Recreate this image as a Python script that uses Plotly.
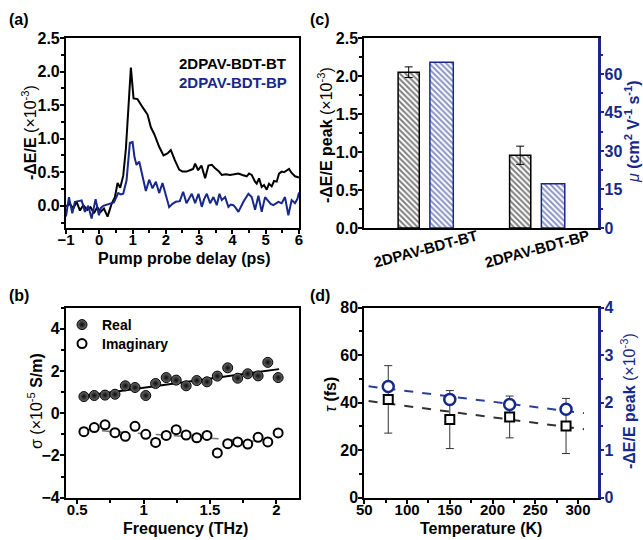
import numpy as np
import plotly.graph_objects as go

FONT = "Liberation Sans, Arial, sans-serif"
BLUE = "#16288c"

# ---------------- (a) transient photoconductivity ----------------
t_bt = [-1.0, -0.88, -0.78, -0.68, -0.58, -0.48, -0.36, -0.26, -0.16, -0.06, 0.04, 0.14, 0.25,
        0.37, 0.47, 0.55, 0.63, 0.72, 0.80, 0.87, 0.95, 1.03, 1.15, 1.30, 1.45, 1.55, 1.65, 1.80,
        1.93, 2.05, 2.15, 2.27, 2.40, 2.50, 2.62, 2.72, 2.82, 2.88, 2.97, 3.07, 3.18, 3.28, 3.38,
        3.48, 3.58, 3.68, 3.80, 3.93, 4.05, 4.18, 4.30, 4.43, 4.50, 4.58, 4.68, 4.73, 4.80, 4.88,
        4.95, 5.03, 5.10, 5.18, 5.25, 5.33, 5.40, 5.48, 5.55, 5.63, 5.70, 5.78, 5.88, 6.0]
v_bt = [-0.01, 0.03, -0.04, 0.06, -0.07, 0.01, -0.06, -0.02, -0.11, -0.02, -0.09, -0.04, -0.16,
        0.03, 0.13, 0.34, 0.27, 0.45, 0.85, 1.35, 2.06, 1.60, 1.59, 1.47, 1.36, 1.17, 1.07, 0.88,
        0.75, 0.78, 0.83, 0.68, 0.54, 0.51, 0.51, 0.53, 0.55, 0.63, 0.53, 0.60, 0.41, 0.60, 0.61,
        0.56, 0.52, 0.46, 0.47, 0.46, 0.47, 0.48, 0.46, 0.44, 0.48, 0.46, 0.36, 0.33, 0.41, 0.28,
        0.31, 0.24, 0.33, 0.29, 0.37, 0.36, 0.48, 0.51, 0.50, 0.53, 0.55, 0.49, 0.44, 0.42]
t_bp = [-1.0, -0.91, -0.81, -0.73, -0.63, -0.53, -0.43, -0.33, -0.23, -0.11, -0.01, 0.05, 0.12,
        0.27, 0.44, 0.57, 0.65, 0.72, 0.82, 0.92, 1.0, 1.06, 1.12, 1.2, 1.3, 1.4, 1.5, 1.6, 1.7,
        1.8, 1.9, 2.0, 2.1, 2.2, 2.3, 2.42, 2.52, 2.62, 2.7, 2.78, 2.88, 2.98, 3.08, 3.15, 3.23,
        3.33, 3.43, 3.53, 3.61, 3.68, 3.78, 3.88, 3.95, 4.03, 4.1, 4.18, 4.33, 4.48, 4.58, 4.68,
        4.78, 4.88, 4.98, 5.08, 5.15, 5.23, 5.38, 5.48, 5.58, 5.68, 5.78, 5.88, 5.95, 6.0]
v_bp = [-0.16, 0.13, -0.11, 0.06, 0.07, 0.08, -0.09, 0.0, -0.19, 0.10, -0.14, -0.03, 0.0,
        0.02, 0.05, 0.19, 0.17, 0.18, 0.38, 0.94, 0.95, 0.72, 0.61, 0.66, 0.46, 0.22, 0.39, 0.26,
        0.36, 0.19, 0.34, 0.16, -0.02, 0.03, 0.06, 0.07, 0.21, 0.04, 0.10, 0.18, 0.04, 0.18,
        -0.015, 0.10, 0.18, 0.04, 0.13, 0.01, 0.18, 0.085, 0.13, -0.015, 0.02, 0.01, -0.03, -0.09,
        0.06, 0.18, 0.13, -0.06, 0.15, -0.09, 0.13, 0.06, 0.03, 0.01, 0.06, 0.04, 0.13, -0.14,
        0.085, 0.04, 0.10, 0.20]
samples = ["2DPAV-BDT-BT", "2DPAV-BDT-BP"]

# ---------------- (b) THz conductivity ----------------
freq = [0.55, 0.628, 0.709, 0.784, 0.862, 0.935, 1.016, 1.09, 1.17, 1.245, 1.32, 1.40, 1.477,
        1.555, 1.633, 1.708, 1.784, 1.862, 1.935, 2.013]
sigma_real = [0.79, 0.84, 0.86, 0.90, 1.30, 1.22, 0.84, 1.41, 1.69, 1.57, 1.30, 1.55, 1.49,
              1.76, 2.15, 1.66, 1.87, 1.77, 2.41, 1.69]
sigma_imag = [-0.87, -0.68, -0.55, -0.92, -1.09, -0.62, -1.00, -1.38, -1.05, -0.78, -1.03,
              -1.16, -1.05, -1.88, -1.44, -1.36, -1.46, -1.14, -1.36, -0.93]
fit_freq = [0.55, 2.02]

# ---------------- (c) peak signal and mobility ----------------
peak = [2.05, 0.957]
peak_err = [0.07, 0.12]
mobility = [64.6, 17.2]

# ---------------- (d) temperature dependence ----------------
temps = [78, 150, 220, 286]
tau = [41.4, 32.9, 34.0, 30.2]
tau_err = [14.2, 12.2, 8.8, 11.6]
peak_T = [2.34, 2.07, 1.96, 1.86]
peak_T_err = [0.08, 0.06, 0.06, 0.06]
fit_T = [55, 307]

fig = go.Figure()

# (a)
fig.add_trace(go.Scatter(x=t_bt, y=v_bt, mode="lines", line=dict(color="black", width=2),
                         xaxis="x", yaxis="y", showlegend=False))
fig.add_trace(go.Scatter(x=t_bp, y=v_bp, mode="lines", line=dict(color=BLUE, width=2),
                         xaxis="x", yaxis="y", showlegend=False))

# (b)
pr = np.polyfit(freq, sigma_real, 1)
pi = np.polyfit(freq, sigma_imag, 1)
ff = np.array(fit_freq)
fig.add_trace(go.Scatter(x=ff, y=np.polyval(pi, ff), mode="lines",
                         line=dict(color="#777777", width=1.5, dash="dash"),
                         xaxis="x3", yaxis="y4", showlegend=False))
fig.add_trace(go.Scatter(x=ff, y=np.polyval(pr, ff), mode="lines",
                         line=dict(color="black", width=2),
                         xaxis="x3", yaxis="y4", showlegend=False))
fig.add_trace(go.Scatter(x=freq, y=sigma_real, mode="markers", name="Real",
                         marker=dict(symbol="circle", size=10, color="#6e6e6e",
                                     gradient=dict(type="radial", color="#080808"),
                                     line=dict(color="black", width=1)),
                         xaxis="x3", yaxis="y4", showlegend=True, legend="legend"))
fig.add_trace(go.Scatter(x=freq, y=sigma_imag, mode="markers", name="Imaginary",
                         marker=dict(symbol="circle", size=9, color="white",
                                     line=dict(color="black", width=2)),
                         xaxis="x3", yaxis="y4", showlegend=True, legend="legend2"))

# (c)
fig.add_trace(go.Bar(x=samples, y=peak, width=0.19, offset=-0.25,
                     marker=dict(color="white", line=dict(color="black", width=1.5),
                                 pattern=dict(shape="\\", fgcolor="black", bgcolor="white",
                                              size=4, solidity=0.5)),
                     error_y=dict(type="data", array=peak_err, color="black", thickness=1,
                                  width=4),
                     xaxis="x2", yaxis="y2", showlegend=False))
fig.add_trace(go.Bar(x=samples, y=mobility, width=0.21, offset=0.035,
                     marker=dict(color="white", line=dict(color=BLUE, width=1.5),
                                 pattern=dict(shape="\\", fgcolor=BLUE, bgcolor="white",
                                              size=4, solidity=0.5)),
                     xaxis="x2", yaxis="y3", showlegend=False))

# (d)
ptau = np.polyfit(temps, tau, 1)
ppk = np.polyfit(temps, peak_T, 1)
ft = np.array(fit_T)
fig.add_trace(go.Scatter(x=ft, y=np.polyval(ptau, ft), mode="lines",
                         line=dict(color="#333333", width=2, dash="dash"),
                         xaxis="x4", yaxis="y5", showlegend=False))
fig.add_trace(go.Scatter(x=temps, y=tau, mode="markers",
                         marker=dict(symbol="square", size=9, color="white",
                                     line=dict(color="black", width=2)),
                         error_y=dict(type="data", array=tau_err, color="#333333",
                                      thickness=1, width=4),
                         xaxis="x4", yaxis="y5", showlegend=False))
fig.add_trace(go.Scatter(x=ft, y=np.polyval(ppk, ft), mode="lines",
                         line=dict(color="#2a3f9a", width=2, dash="dash"),
                         xaxis="x4", yaxis="y6", showlegend=False))
fig.add_trace(go.Scatter(x=temps, y=peak_T, mode="markers",
                         marker=dict(symbol="circle", size=11, color="white",
                                     line=dict(color=BLUE, width=2.5)),
                         error_y=dict(type="data", array=peak_T_err, color=BLUE,
                                      thickness=1, width=4),
                         xaxis="x4", yaxis="y6", showlegend=False))

tickfont_x = dict(family=FONT, size=15, color="black", weight="bold")
tickfont = dict(family=FONT, size=16, color="black", weight="bold")
tickfont_b = dict(family=FONT, size=16, color=BLUE, weight="bold")


def ax(**kw):
    d = dict(showline=True, linecolor="black", linewidth=2, mirror=True, ticks="outside",
             ticklen=4, tickwidth=1.5, tickcolor="black", showgrid=False, zeroline=False,
             tickfont=tickfont, automargin=False, ticklabelstandoff=-3)
    d.update(kw)
    return d


def minor(dt, color="black"):
    return dict(ticks="outside", ticklen=3, tickwidth=1.5, tickcolor=color, dtick=dt)


xa = [0.1026, 0.465]
xc = [0.5666, 0.9295]
ytop = [0.5778, 0.9296]
ybot = [0.0783, 0.4302]

fig.update_layout(
    width=643, height=540, margin=dict(l=0, r=0, t=0, b=0, autoexpand=False),
    paper_bgcolor="white", plot_bgcolor="white", barmode="overlay",
    font=dict(family=FONT, color="black"),
    xaxis=ax(domain=xa, anchor="y", range=[-1, 6], dtick=1, minor=minor(0.5),
             tickfont=tickfont_x, ticklabelstandoff=-7),
    yaxis=ax(domain=ytop, anchor="x", range=[-0.33, 2.5], tickvals=[0, 0.5, 1, 1.5, 2, 2.5],
             ticktext=["0.0", "0.5", "1.0", "1.5", "2.0", "2.5"], minor=minor(0.25)),
    xaxis2=ax(domain=xc, anchor="y2", range=[-0.553, 1.54], ticks="", showticklabels=False),
    yaxis2=ax(domain=ytop, anchor="x2", range=[0, 2.5], dtick=0.5, tickformat=".1f",
              mirror=False, minor=minor(0.25)),
    yaxis3=ax(overlaying="y2", side="right", anchor="x2", range=[0, 74], dtick=15,
              linecolor=BLUE, linewidth=2.5, tickcolor=BLUE, tickfont=tickfont_b,
              mirror=False, minor=minor(7.5, BLUE)),
    xaxis3=ax(domain=xa, anchor="y4", range=[0.415, 2.17], tickvals=[0.5, 1, 1.5, 2],
              ticktext=["0.5", "1", "1.5", "2"], minor=minor(0.25), tickfont=tickfont_x,
              ticklabelstandoff=-7),
    yaxis4=ax(domain=ybot, anchor="x3", range=[-4, 5], tickvals=[-4, -2, 0, 2, 4],
              minor=minor(1)),
    xaxis4=ax(domain=xc, anchor="y5", range=[50, 323], dtick=50, minor=minor(25),
              tickfont=tickfont_x, ticklabelstandoff=-7),
    yaxis5=ax(domain=ybot, anchor="x4", range=[0, 80], dtick=20, mirror=False,
              minor=minor(10)),
    yaxis6=ax(overlaying="y5", side="right", anchor="x4", range=[0, 4], dtick=1,
              linecolor=BLUE, linewidth=2.5, tickcolor=BLUE, tickfont=tickfont_b,
              mirror=False, minor=minor(0.5, BLUE)),
    legend=dict(x=62 / 643, y=1 - 309 / 540, xanchor="left", yanchor="top",
                bgcolor="rgba(0,0,0,0)", font=dict(family=FONT, size=14, color="black",
                                                  weight="bold"),
                tracegroupgap=0, itemwidth=30),
    legend2=dict(x=62 / 643, y=1 - 328 / 540, xanchor="left", yanchor="top",
                 bgcolor="rgba(0,0,0,0)", font=dict(family=FONT, size=14, color="black",
                                                   weight="bold"),
                 tracegroupgap=0, itemwidth=30),
)


def txt(text, x, y, size=16, color="black", angle=0, xanchor="center"):
    fig.add_annotation(xref="paper", yref="paper", x=x / 643, y=1 - y / 540,
                       xanchor=xanchor, yanchor="middle", showarrow=False, text=text,
                       textangle=angle, font=dict(family=FONT, size=size, color=color))


# panel letters
txt("<b>(a)</b>", 7, 20, xanchor="left")
txt("<b>(c)</b>", 308, 20, xanchor="left")
txt("<b>(b)</b>", 7, 295, xanchor="left")
txt("<b>(d)</b>", 308, 295, xanchor="left")

# axis titles
txt("<b>Pump probe delay (ps)</b>", 184, 258)
txt("<b>-ΔE/E</b> (×10<sup>-3</sup>)", 29, 133, angle=-90)
txt("<b>-ΔE/E peak</b> (×10<sup>-3</sup>)", 325, 135, angle=-90)
txt("<i>μ</i> <b>(cm<sup>2</sup> V<sup>-1</sup> s<sup>-1</sup>)</b>", 632, 132, color=BLUE,
    angle=-90)
txt("<b>Frequency (THz)</b>", 185, 528)
txt("σ (×10<sup>-5</sup> <b>S/m)</b>", 35, 401, angle=-90)
txt("<b>Temperature (K)</b>", 481, 528)
txt("<i>τ</i> <b>(fs)</b>", 330, 395, angle=-90)
txt("<b>-ΔE/E peak</b> (×10<sup>-3</sup>)", 628, 401, color=BLUE, angle=-90)

# legend texts of panel (a)
txt("<b>" + samples[0] + "</b>", 177, 63, size=15, xanchor="left")
txt("<b>" + samples[1] + "</b>", 177, 83, size=15, color=BLUE, xanchor="left")

# rotated category labels of panel (c)
for s in samples:
    fig.add_annotation(xref="x2", yref="paper", x=s, y=1 - 248 / 540, xanchor="center",
                       yanchor="middle", showarrow=False, textangle=-15,
                       text="<b>" + s + "</b>", font=dict(family=FONT, size=15, color="black"))

fig.write_html("out.html")
